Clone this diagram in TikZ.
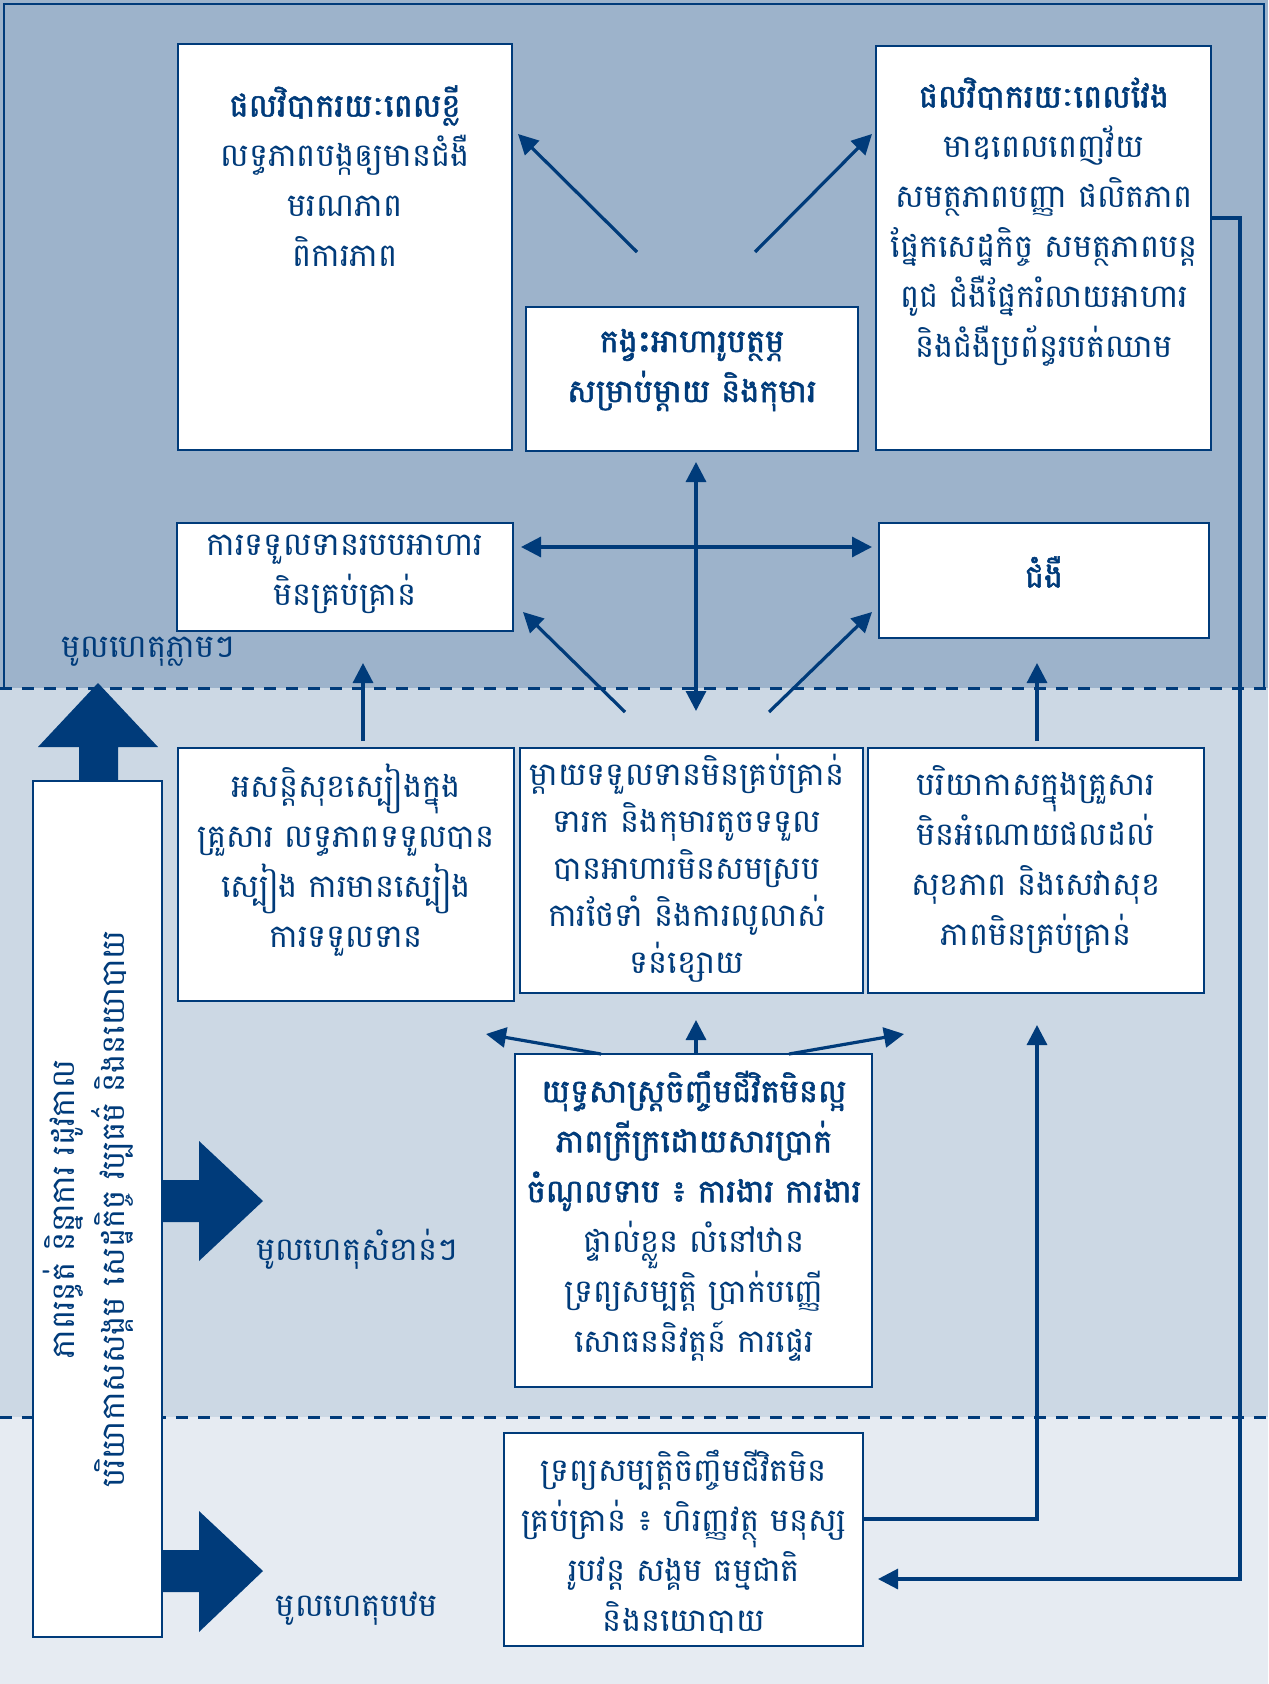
\documentclass[tikz,border=0pt]{standalone}
\usepackage{fontspec}
\newfontfamily\km[Script=Khmer]{Battambang}
\newfontfamily\kmb[Script=Khmer,FakeBold=1.6]{Battambang}
\usetikzlibrary{arrows.meta,fit}
\definecolor{navy}{HTML}{003B7A}
\definecolor{bandA}{HTML}{9DB3CB}
\definecolor{bandB}{HTML}{CCD8E4}
\definecolor{bandC}{HTML}{E6EBF2}
\tikzset{
  box/.style={draw=navy, line width=1.2pt, fill=white, inner sep=0pt, fit={#1}},
  txt/.style={text=navy, align=center, inner sep=0pt, font=\km\fontsize{16}{25}\selectfont},
  lbl/.style={text=navy, inner sep=0pt, font=\km\fontsize{16}{25}\selectfont},
  link/.style={draw=navy, line width=1.6pt, -{Triangle[length=10pt,width=10pt]}},
  linkboth/.style={draw=navy, line width=1.6pt, {Triangle[length=10pt,width=10pt]}-{Triangle[length=10pt,width=10pt]}},
  divider/.style={draw=navy, line width=1.5pt, dash pattern=on 6pt off 5pt},
  bigarrow/.style={fill=navy, draw=none}
}
\begin{document}
\begin{tikzpicture}[x=0.5pt,y=-0.5pt]
\useasboundingbox (0,0) rectangle (1268,1684);
% three horizontal bands
\fill[bandA] (0,0) rectangle (1268,688);
\fill[bandB] (0,688) rectangle (1268,1417);
\fill[bandC] (0,1417) rectangle (1268,1684);
\draw[navy, line width=1pt] (4,688) -- (4,4) -- (1264,4) -- (1264,688);
\draw[divider] (0,688) -- (1268,688);
\draw[divider] (0,1417) -- (1268,1417);

% boxes
\node[box={(178,44) (512,450)}] (st) {};
\node[box={(876,46) (1211,450)}] (lt) {};
\node[box={(526,307) (858,451)}] (nut) {};
\node[box={(177,523) (513,631)}] (diet) {};
\node[box={(879,523) (1209,638)}] (dis) {};
\node[box={(178,748) (514,1001)}] (food) {};
\node[box={(520,748) (863,993)}] (care) {};
\node[box={(868,748) (1204,993)}] (env) {};
\node[box={(515,1054) (872,1387)}] (liv) {};
\node[box={(504,1433) (863,1646)}] (res) {};
\node[box={(33,781) (162,1637)}] (ctx) {};

% box texts
\node[txt] (stt) at (345,176) {{\kmb ផលវិបាករយៈពេលខ្លី}\\លទ្ធភាពបង្កឲ្យមានជំងឺ\\មរណភាព\\ពិការភាព};
\node[txt] (ltt) at (1044,222) {{\kmb ផលវិបាករយៈពេលវែង}\\មាឌពេលពេញវ័យ\\សមត្ថភាពបញ្ញា ផលិតភាព\\ផ្នែកសេដ្ឋកិច្ច សមត្ថភាពបន្ត\\ពូជ ជំងឺផ្នែករំលាយអាហារ\\និងជំងឺប្រព័ន្ធរបត់ឈាម};
\node[txt, font=\kmb\fontsize{16}{25}\selectfont] (nutt) at (692,370) {កង្វះអាហារូបត្ថម្ភ\\សម្រាប់ម្ដាយ និងកុមារ};
\node[txt] (dietT) at (345,574) {ការទទួលទានរបបអាហារ\\មិនគ្រប់គ្រាន់};
\node[txt, font=\kmb\fontsize{16}{25}\selectfont] (dist) at (1044,572) {ជំងឺ};
\node[txt] (foodt) at (346,860) {អសន្តិសុខស្បៀងក្នុង\\គ្រួសារ លទ្ធភាពទទួលបាន\\ស្បៀង ការមានស្បៀង\\ការទទួលទាន};
\node[txt, font=\km\fontsize{16}{23.5}\selectfont] (caret) at (687,868) {ម្ដាយទទួលទានមិនគ្រប់គ្រាន់\\ទារក និងកុមារតូចទទួល\\បានអាហារមិនសមស្រប\\ការថែទាំ និងការលូលាស់\\ទន់ខ្សោយ};
\node[txt] (envt) at (1036,860) {បរិយាកាសក្នុងគ្រួសារ\\មិនអំណោយផលដល់\\សុខភាព និងសេវាសុខ\\ភាពមិនគ្រប់គ្រាន់};
\node[txt] (livt) at (694,1216) {{\kmb យុទ្ធសាស្ត្រចិញ្ចឹមជីវិតមិនល្អ}\\{\kmb ភាពក្រីក្រដោយសារប្រាក់}\\{\kmb ចំណូលទាប ៖ ការងារ ការងារ}\\ផ្ទាល់ខ្លួន លំនៅឋាន\\ទ្រព្យសម្បត្តិ ប្រាក់បញ្ញើ\\សោធននិវត្តន៍ ការផ្ទេរ};
\node[txt] (rest) at (684,1542) {ទ្រព្យសម្បត្តិចិញ្ចឹមជីវិតមិន\\គ្រប់គ្រាន់ ៖ ហិរញ្ញវត្ថុ មនុស្ស\\រូបវន្ត សង្គម ធម្មជាតិ\\និងនយោបាយ};
\node[txt, rotate=90] (ctxt) at (88,1209) {ភាពរន្ធត់ និន្នាការ រដូវកាល\\បរិយាកាសសង្គម សេដ្ឋកិច្ច វប្បធម៌ និងនយោបាយ};

% level labels
\node[lbl] (imm) at (148,652) {មូលហេតុភ្លាមៗ};
\node[lbl] (und) at (357,1249) {មូលហេតុសំខាន់ៗ};
\node[lbl] (bas) at (357,1609) {មូលហេតុបឋម};

% wide block arrows beside the context box
\fill[bigarrow] (79,781) -- (79,747) -- (38,747) -- (98,683) -- (158,747) -- (118,747) -- (118,781) -- cycle;
\fill[bigarrow] (162,1180) -- (199,1180) -- (199,1141) -- (263,1201) -- (199,1261) -- (199,1222) -- (162,1222) -- cycle;
\fill[bigarrow] (162,1550) -- (199,1550) -- (199,1511) -- (263,1571) -- (199,1632) -- (199,1592) -- (162,1592) -- cycle;

% connector end points
\coordinate (a1s) at (637,252);  \coordinate (a1e) at (518,134);
\coordinate (a2s) at (755,252);  \coordinate (a2e) at (872,134);
\coordinate (hL) at (521,547);   \coordinate (hR) at (872,547);
\coordinate (vT) at (696,462);   \coordinate (vB) at (696,711);
\coordinate (d1s) at (625,712);  \coordinate (d1e) at (523,612);
\coordinate (d2s) at (769,712);  \coordinate (d2e) at (872,612);
\coordinate (u1s) at (363,741);  \coordinate (u1e) at (363,663);
\coordinate (u2s) at (1037,741); \coordinate (u2e) at (1037,663);
\coordinate (l1s) at (601,1054); \coordinate (l1e) at (486,1034);
\coordinate (l2s) at (696,1054); \coordinate (l2e) at (696,1020);
\coordinate (l3s) at (789,1054); \coordinate (l3e) at (904,1034);
\coordinate (r1) at (1037,1519); \coordinate (r1e) at (1037,1025);
\coordinate (k1) at (1240,218);  \coordinate (k2) at (1240,1579); \coordinate (k3) at (878,1579);

% connectors
\draw[link] (a1s) -- (a1e);
\draw[link] (a2s) -- (a2e);
\draw[linkboth] (hL) -- (hR);
\draw[linkboth] (vT) -- (vB);
\draw[link] (d1s) -- (d1e);
\draw[link] (d2s) -- (d2e);
\draw[link] (u1s) -- (u1e);
\draw[link] (u2s) -- (u2e);
\draw[link] (l1s) -- (l1e);
\draw[link] (l2s) -- (l2e);
\draw[link] (l3s) -- (l3e);
\draw[link] (res.east |- r1) -- (r1) -- (r1e);
\draw[link] (lt.east |- k1) -- (k1) -- (k2) -- (k3);
\end{tikzpicture}
\end{document}
